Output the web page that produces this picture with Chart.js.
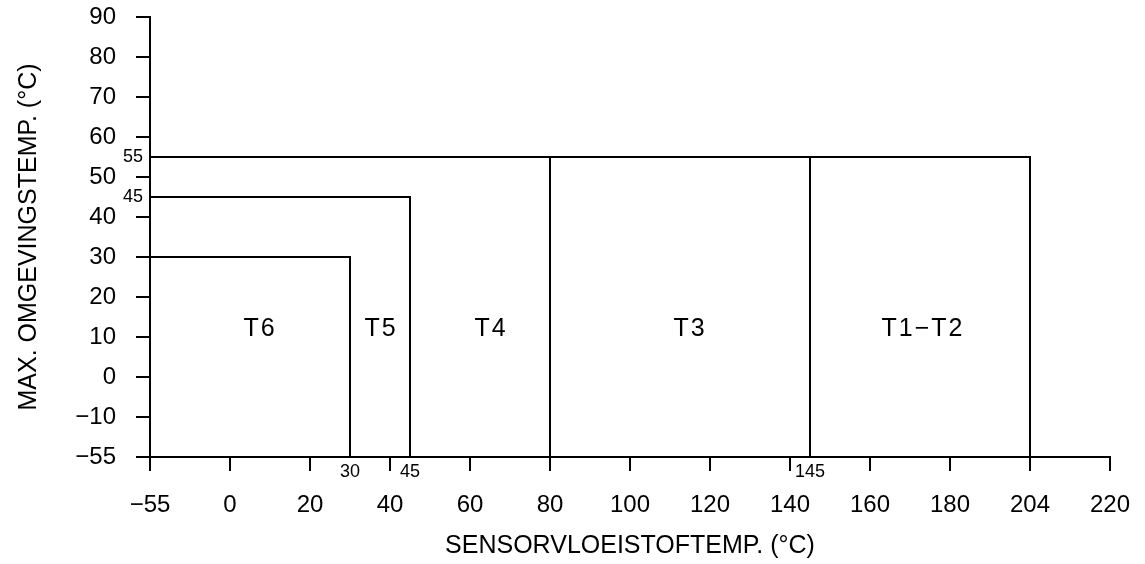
<!DOCTYPE html>
<html>
<head>
<meta charset="utf-8">
<script src="https://cdn.jsdelivr.net/npm/chart.js@4.4.1/dist/chart.umd.min.js"></script>
<style>
  html, body { margin: 0; padding: 0; background: #fff; }
  #wrap { width: 1145px; height: 564px; }
</style>
</head>
<body>
<div id="wrap"><canvas id="chartTemp" width="1145" height="564"></canvas></div>
<script>
// tick values as printed on the axes (axis is not linear, every tick = one step)
const xTickValues = [-55, 0, 20, 40, 60, 80, 100, 120, 140, 160, 180, 204, 220];
const yTickValues = [-55, -10, 0, 10, 20, 30, 40, 50, 60, 70, 80, 90];

// temperature classes: max sensor fluid temp + max ambient temp
const classNames      = ['T6', 'T5', 'T4', 'T3', 'T1\u2212T2'];
const classFluidMax   = [30, 45, 80, 145, 204];
const classAmbientMax = [30, 45, 55, 55, 55];

// where the class name sits (in °C)
const classLabelX = [7.5, 37.75, 65.25, 115, 173.25];
const classLabelY = [12, 12, 12, 12, 12];

// small value labels next to the axes
const xMarkValues = [30, 45, 145];
const yMarkValues = [55, 45];

const xTitle = 'SENSORVLOEISTOFTEMP. (°C)';
const yTitle = 'MAX. OMGEVINGSTEMP. (°C)';

document.addEventListener('DOMContentLoaded', () => {
  if (typeof Chart === 'undefined') return;

  const fontTick  = "'Liberation Sans', Arial, sans-serif";
  const fontTitle = "'Liberation Sans', Arial, sans-serif";
  const hitam = '#000';

  // value in °C -> step position on the uneven axis
  function keIndeks(nilai, daftar) {
    for (let i = 0; i < daftar.length - 1; i++) {
      if (nilai <= daftar[i + 1]) return i + (nilai - daftar[i]) / (daftar[i + 1] - daftar[i]);
    }
    return daftar.length - 1;
  }
  const px = v => keIndeks(v, xTickValues);
  const py = v => keIndeks(v, yTickValues);
  const minus = v => String(v).replace('-', '\u2212');

  // one polyline per class: top edge then down to the x axis
  const datasets = classNames.map((nama, i) => ({
    label: nama,
    data: [
      { x: px(xTickValues[0]), y: py(classAmbientMax[i]) },
      { x: px(classFluidMax[i]), y: py(classAmbientMax[i]) },
      { x: px(classFluidMax[i]), y: py(yTickValues[0]) }
    ],
    showLine: true,
    borderColor: hitam,
    borderWidth: 2,
    pointRadius: 0,
    tension: 0,
    fill: false
  }));

  // text inside the chart (class names + small limit labels)
  const pluginTeks = {
    id: 'teksKelas',
    afterDatasetsDraw(chart) {
      const { ctx, chartArea, scales: { x, y } } = chart;
      ctx.save();
      ctx.fillStyle = hitam;
      ctx.textAlign = 'center';
      ctx.textBaseline = 'middle';
      ctx.font = '25px ' + fontTick;
      ctx.letterSpacing = '2px';
      classNames.forEach((nama, i) => {
        ctx.fillText(nama, x.getPixelForValue(px(classLabelX[i])), y.getPixelForValue(py(classLabelY[i])));
      });
      ctx.letterSpacing = '0px';
      ctx.font = '18px ' + fontTick;
      xMarkValues.forEach(v => {
        ctx.fillText(String(v), x.getPixelForValue(px(v)), chartArea.bottom + 15);
      });
      ctx.textAlign = 'right';
      yMarkValues.forEach(v => {
        ctx.fillText(String(v), chartArea.left - 7, y.getPixelForValue(py(v)));
      });
      ctx.restore();
    }
  };

  const gridAxis = { drawOnChartArea: false, drawTicks: true, tickLength: 14, color: hitam, lineWidth: 2 };

  new Chart(document.getElementById('chartTemp').getContext('2d'), {
    type: 'scatter',
    data: { datasets },
    options: {
      responsive: false,
      animation: false,
      layout: { padding: { top: 17, right: 35, left: 0, bottom: 0 } },
      plugins: { legend: { display: false }, tooltip: { enabled: false } },
      scales: {
        x: {
          type: 'linear',
          min: 0,
          max: xTickValues.length - 1,
          // fixed box size, no extra label overhang
          afterFit: s => { s.height = 107; s.paddingLeft = 0; s.paddingRight = 0; },
          grid: gridAxis,
          border: { color: hitam, width: 2 },
          ticks: {
            stepSize: 1, autoSkip: false, maxRotation: 0, padding: 20, color: hitam,
            font: { family: fontTick, size: 24 },
            callback: v => minus(xTickValues[v])
          },
          title: {
            display: true, text: xTitle, color: hitam,
            font: { family: fontTitle, size: 25 },
            padding: { top: 0, bottom: 3 }
          }
        },
        y: {
          type: 'linear',
          min: 0,
          max: yTickValues.length - 1,
          afterFit: s => { s.width = 150; s.paddingTop = 0; s.paddingBottom = 0; },
          grid: gridAxis,
          border: { color: hitam, width: 2 },
          ticks: {
            stepSize: 1, autoSkip: false, padding: 20, color: hitam,
            font: { family: fontTick, size: 24 },
            callback: v => minus(yTickValues[v])
          },
          title: {
            display: true, text: yTitle, color: hitam,
            font: { family: fontTitle, size: 25 },
            padding: { top: 14, bottom: 0 }
          }
        }
      }
    },
    plugins: [pluginTeks]
  });
});
</script>
</body>
</html>
